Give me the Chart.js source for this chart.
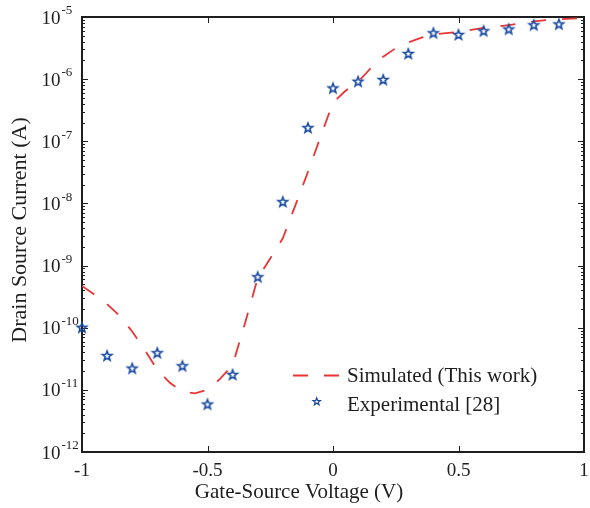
<!DOCTYPE html>
<html>
<head>
<meta charset="utf-8">
<script src="https://cdn.jsdelivr.net/npm/chart.js@4.4.1/dist/chart.umd.min.js"></script>
<style>
  html, body { margin: 0; padding: 0; background: #fff; overflow: hidden; }
  #wrap { width: 590px; height: 508px; }
</style>
</head>
<body>
<div id="wrap"><canvas id="c" width="590" height="508"></canvas></div>
<script>
// Simulated transfer curve (gate-source voltage in V, drain-source current in A)
const simVoltage = [-1.00, -0.95, -0.90, -0.85, -0.80, -0.75, -0.70, -0.65, -0.60, -0.55,
                    -0.50, -0.45, -0.40, -0.35, -0.30, -0.25, -0.20, -0.15, -0.10, -0.05,
                     0.00,  0.05,  0.10,  0.15,  0.20,  0.25,  0.30,  0.35,  0.40,  0.45,
                     0.50,  0.55,  0.60,  0.65,  0.70,  0.75,  0.80,  0.85,  0.90,  0.95, 1.00];
const simCurrent = [4.7e-10, 3.4e-10, 2.4e-10, 1.55e-10, 8.7e-11, 4.4e-11, 2.1e-11, 1.3e-11, 9.3e-12, 8.8e-12,
                    1.0e-11, 1.5e-11, 2.5e-11, 1.2e-10, 6.3e-10, 1.3e-9, 2.75e-9, 9.3e-9, 3.2e-8, 1.17e-7,
                    4.2e-7, 6.5e-7, 9.0e-7, 1.5e-6, 2.3e-6, 3.15e-6, 3.9e-6, 4.6e-6, 5.25e-6, 5.5e-6,
                    5.75e-6, 6.2e-6, 6.7e-6, 7.0e-6, 7.4e-6, 7.9e-6, 8.5e-6, 8.9e-6, 9.2e-6, 9.4e-6, 9.6e-6];

// Measured points
const expVoltage = [-1.0, -0.9, -0.8, -0.7, -0.6, -0.5, -0.4, -0.3, -0.2, -0.1,
                     0.0,  0.1,  0.2,  0.3,  0.4,  0.5,  0.6,  0.7,  0.8,  0.9];
const expCurrent = [1.0e-10, 3.5e-11, 2.2e-11, 3.9e-11, 2.4e-11, 5.8e-12, 1.74e-11, 6.5e-10, 1.05e-8, 1.63e-7,
                    7.1e-7, 9.1e-7, 9.7e-7, 2.54e-6, 5.47e-6, 5.14e-6, 5.9e-6, 6.3e-6, 7.35e-6, 7.6e-6];

// Axis ticks and labels
const xTicks = [-1, -0.5, 0, 0.5, 1];
const xTickLabels = ['-1', '-0.5', '0', '0.5', '1'];
const yTickExponents = [-12, -11, -10, -9, -8, -7, -6, -5];
const yMinorMultipliers = [2, 3, 4, 5, 6, 7, 8, 9];

const seriesNames = ['Simulated (This work)', 'Experimental [28]'];
const xTitle = 'Gate-Source Voltage (V)';
const yTitle = 'Drain Source Current (A)';

const SERIF = '"Liberation Serif", "Times New Roman", serif';
const RED = '#ea3535';
const BLUE = '#1a4ba2';
const INK = '#1e1e1e';
const DASH = [15, 16];

// Five-pointed outline star used as the marker
function drawStar(ctx, cx, cy, R, lw) {
  const r = R * 0.42;
  ctx.beginPath();
  for (let k = 0; k < 10; k++) {
    const rad = k % 2 === 0 ? R : r;
    const ang = -Math.PI / 2 + k * Math.PI / 5;
    const px = cx + rad * Math.cos(ang);
    const py = cy + rad * Math.sin(ang);
    if (k === 0) ctx.moveTo(px, py); else ctx.lineTo(px, py);
  }
  ctx.closePath();
  ctx.lineJoin = 'miter';
  ctx.lineWidth = lw;
  ctx.strokeStyle = BLUE;
  ctx.stroke();
}
function starImage(R, lw) {
  const size = Math.ceil(2 * R + 2 * lw + 4);
  const cv = document.createElement('canvas');
  cv.width = size; cv.height = size;
  drawStar(cv.getContext('2d'), size / 2, size / 2, R, lw);
  return cv;
}
const starMarker = starImage(5.0, 1.6);

// Frame with inward tick marks, drawn beneath the data
const axesFrame = {
  id: 'axesFrame',
  beforeDatasetsDraw(chart) {
    const { ctx, chartArea: a, scales: { x, y } } = chart;
    ctx.save();
    ctx.strokeStyle = INK;
    ctx.lineWidth = 1;
    ctx.beginPath();
    xTicks.forEach(v => {
      const px = Math.round(x.getPixelForValue(v)) + 0.5;
      ctx.moveTo(px, a.bottom); ctx.lineTo(px, a.bottom - 6);
      ctx.moveTo(px, a.top); ctx.lineTo(px, a.top + 6);
    });
    yTickExponents.forEach((e, i) => {
      const base = Math.pow(10, e);
      const py = Math.round(y.getPixelForValue(base)) + 0.5;
      ctx.moveTo(a.left, py); ctx.lineTo(a.left + 6, py);
      ctx.moveTo(a.right, py); ctx.lineTo(a.right - 6, py);
      if (i < yTickExponents.length - 1) {
        yMinorMultipliers.forEach(m => {
          const pm = Math.round(y.getPixelForValue(m * base)) + 0.5;
          ctx.moveTo(a.left, pm); ctx.lineTo(a.left + 3, pm);
          ctx.moveTo(a.right, pm); ctx.lineTo(a.right - 3, pm);
        });
      }
    });
    ctx.stroke();
    ctx.lineWidth = 2;
    ctx.strokeRect(a.left, a.top, a.right - a.left, a.bottom - a.top);
    ctx.restore();
  },
  afterDraw(chart) {
    const { ctx, chartArea: a, scales: { x, y } } = chart;
    ctx.save();
    ctx.fillStyle = INK;

    // y tick labels: 10 with raised exponent
    yTickExponents.forEach(e => {
      const py = y.getPixelForValue(Math.pow(10, e));
      ctx.font = `19px ${SERIF}`;
      ctx.textAlign = 'right';
      ctx.textBaseline = 'alphabetic';
      ctx.fillText('10', 60.5, py + 6.6);
      ctx.font = `13px ${SERIF}`;
      ctx.textAlign = 'left';
      ctx.fillText(String(e), 61.5, py - 2.7);
    });

    // x tick labels
    ctx.font = `19px ${SERIF}`;
    ctx.textAlign = 'center';
    xTicks.forEach((v, i) => {
      ctx.fillText(xTickLabels[i], x.getPixelForValue(v), 475.7);
    });

    // axis titles
    ctx.font = `21px ${SERIF}`;
    ctx.fillText(xTitle, 299, 498);
    ctx.save();
    ctx.translate(25.5, 230);
    ctx.rotate(-Math.PI / 2);
    ctx.font = `22px ${SERIF}`;
    ctx.fillText(yTitle, 0, 0);
    ctx.restore();

    // legend
    ctx.save();
    ctx.strokeStyle = RED;
    ctx.lineWidth = 1.8;
    ctx.setLineDash(DASH);
    ctx.beginPath();
    ctx.moveTo(293, 375.5); ctx.lineTo(340, 375.5);
    ctx.stroke();
    ctx.restore();
    drawStar(ctx, 316.7, 401.7, 3.8, 1.3);
    ctx.fillStyle = INK;
    ctx.font = `21px ${SERIF}`;
    ctx.textAlign = 'left';
    ctx.fillText(seriesNames[0], 347, 382);
    ctx.fillText(seriesNames[1], 347, 410.5);
    ctx.restore();
  }
};

new Chart(document.getElementById('c'), {
  type: 'scatter',
  data: {
    datasets: [
      {
        label: seriesNames[0],
        data: simVoltage.map((v, i) => ({ x: v, y: simCurrent[i] })),
        showLine: true,
        borderColor: RED,
        borderWidth: 1.8,
        borderDash: DASH,
        pointRadius: 0,
        pointHoverRadius: 0,
        tension: 0,
        order: 2
      },
      {
        label: seriesNames[1],
        data: expVoltage.map((v, i) => ({ x: v, y: expCurrent[i] })),
        showLine: false,
        pointStyle: starMarker,
        pointRadius: 5,
        borderColor: BLUE,
        backgroundColor: BLUE,
        clip: false,
        order: 1
      }
    ]
  },
  options: {
    responsive: false,
    animation: false,
    devicePixelRatio: 1,
    layout: { padding: { left: 82, top: 17, right: 3, bottom: 56 } },
    scales: {
      x: { type: 'linear', min: -1, max: 1, display: false },
      y: { type: 'logarithmic', min: 1e-12, max: 1e-5, display: false }
    },
    plugins: {
      legend: { display: false },
      tooltip: { enabled: false }
    }
  },
  plugins: [axesFrame]
});
</script>
</body>
</html>
